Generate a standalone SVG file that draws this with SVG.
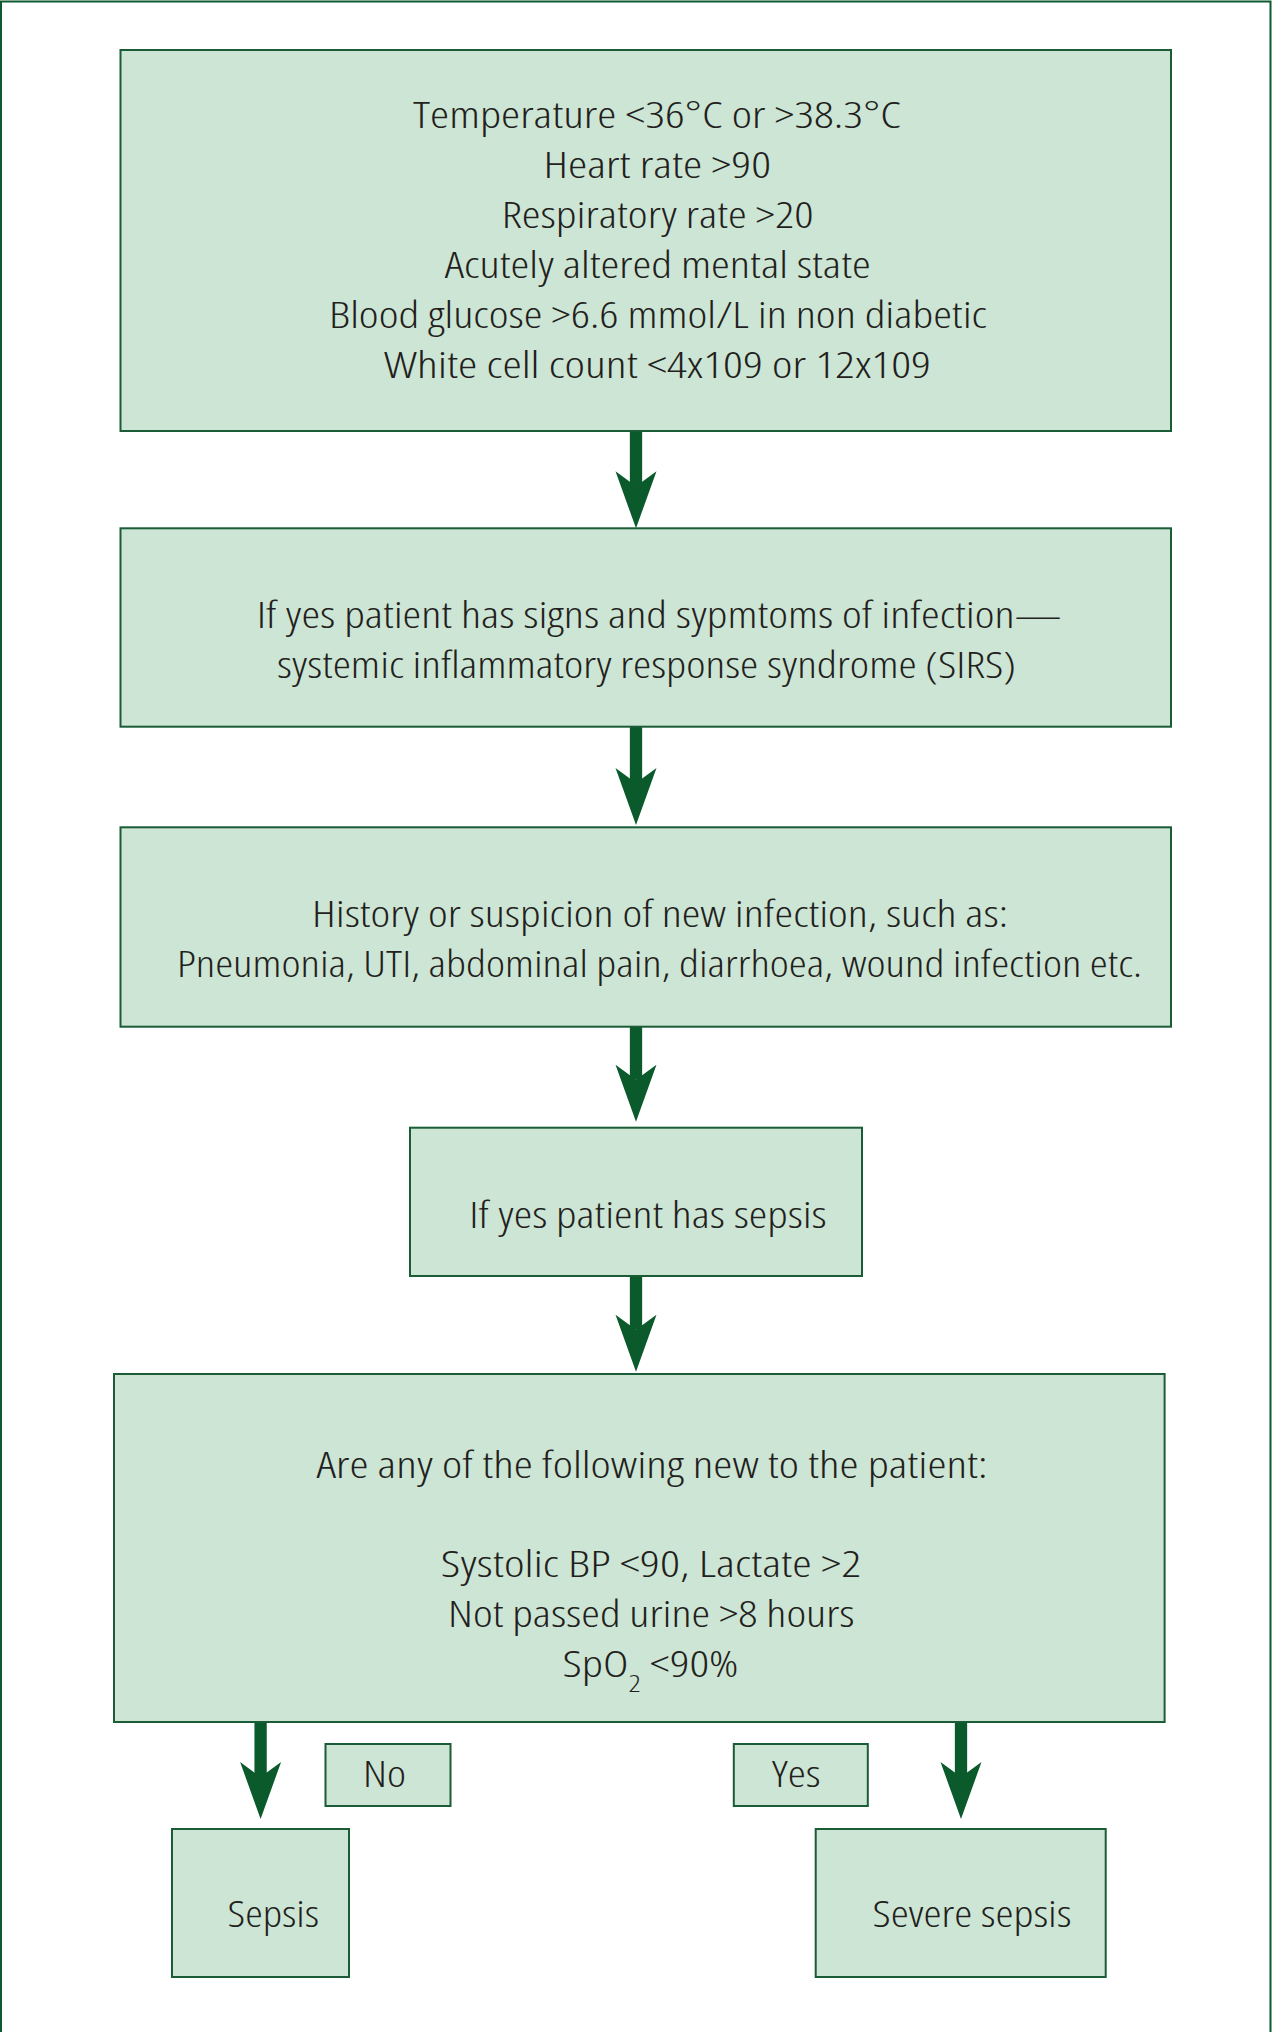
<svg xmlns="http://www.w3.org/2000/svg" width="1273" height="2032" viewBox="0 0 1273 2032">
<style>
.box{fill:#cde5d4;stroke:#1a5c36;stroke-width:2}
.t{font-family:"Open Sans","Noto Sans","Liberation Sans",sans-serif;font-size:37px;font-weight:300;font-stretch:condensed;fill:#231f20}
.conn{stroke:#0a5a2c;stroke-width:12.3;fill:none;marker-end:url(#ah)}
</style>
<defs>
<marker id="ah" markerUnits="userSpaceOnUse" markerWidth="60" markerHeight="44" viewBox="0 -22 60 44" refX="15" refY="0" orient="auto">
<path d="M0,-20.5 L57,0 L0,20.5 L15,0 Z" fill="#0a5a2c"/>
</marker>
</defs>
<rect width="1273" height="2032" fill="#ffffff"/>
<path d="M1,2040 V1.5 H1270.5 V2040" fill="none" stroke="#0e5a30" stroke-width="2"/>

<g id="connectors">
<line class="conn" x1="636" y1="431" x2="636" y2="486.3"/>
<line class="conn" x1="636" y1="726.7" x2="636" y2="783"/>
<line class="conn" x1="636" y1="1026.7" x2="636" y2="1079.7"/>
<line class="conn" x1="636" y1="1276" x2="636" y2="1329.7"/>
<line class="conn" x1="260.6" y1="1722" x2="260.6" y2="1777"/>
<line class="conn" x1="961" y1="1722" x2="961" y2="1777"/>
</g>

<g id="criteria">
<rect class="box" x="120.5" y="50" width="1050.5" height="381"/>
<text class="t" x="413" y="127.5" textLength="488" lengthAdjust="spacingAndGlyphs">Temperature &lt;36°C or &gt;38.3°C</text>
<text class="t" x="543.5" y="177.5" textLength="227.5" lengthAdjust="spacingAndGlyphs">Heart rate &gt;90</text>
<text class="t" x="501.7" y="227.5" textLength="312" lengthAdjust="spacingAndGlyphs">Respiratory rate &gt;20</text>
<text class="t" x="444.7" y="277.5" textLength="426" lengthAdjust="spacingAndGlyphs">Acutely altered mental state</text>
<text class="t" x="329" y="327.5" textLength="658" lengthAdjust="spacingAndGlyphs">Blood glucose &gt;6.6 mmol/L in non diabetic</text>
<text class="t" x="384" y="377.5" textLength="547" lengthAdjust="spacingAndGlyphs">White cell count &lt;4x109 or 12x109</text>
</g>

<g id="sirs">
<rect class="box" x="120.5" y="528.3" width="1050.5" height="198.4"/>
<text class="t" x="256.7" y="628.3" textLength="805" lengthAdjust="spacingAndGlyphs">If yes patient has signs and sypmtoms of infection—</text>
<text class="t" x="277" y="677.8" textLength="739" lengthAdjust="spacingAndGlyphs">systemic inflammatory response syndrome (SIRS)</text>
</g>

<g id="infection">
<rect class="box" x="120.5" y="827.3" width="1050.5" height="199.4"/>
<text class="t" x="312" y="927.3" textLength="696" lengthAdjust="spacingAndGlyphs">History or suspicion of new infection, such as:</text>
<text class="t" x="177" y="976.7" textLength="965" lengthAdjust="spacingAndGlyphs">Pneumonia, UTI, abdominal pain, diarrhoea, wound infection etc.</text>
</g>

<g id="sepsis-check">
<rect class="box" x="410" y="1127.7" width="452" height="148.3"/>
<text class="t" x="469.3" y="1228" textLength="357.4" lengthAdjust="spacingAndGlyphs">If yes patient has sepsis</text>
</g>

<g id="severity-question">
<rect class="box" x="114" y="1374" width="1050.6" height="348"/>
<text class="t" x="316.6" y="1478.3" textLength="671" lengthAdjust="spacingAndGlyphs">Are any of the following new to the patient:</text>
<text class="t" x="440.7" y="1577.3" textLength="420.5" lengthAdjust="spacingAndGlyphs">Systolic BP &lt;90, Lactate &gt;2</text>
<text class="t" x="448" y="1627" textLength="406.5" lengthAdjust="spacingAndGlyphs">Not passed urine &gt;8 hours</text>
<text class="t" x="562.5" y="1677" textLength="176" lengthAdjust="spacingAndGlyphs">SpO<tspan font-size="23" dy="14.7">2</tspan><tspan dy="-14.7"> &lt;90%</tspan></text>
</g>

<g id="label-no">
<rect class="box" x="325.5" y="1744" width="125" height="62"/>
<text class="t" x="363" y="1787.3" textLength="43" lengthAdjust="spacingAndGlyphs">No</text>
</g>

<g id="label-yes">
<rect class="box" x="733.8" y="1744" width="134" height="62"/>
<text class="t" x="772" y="1787.3" textLength="48.5" lengthAdjust="spacingAndGlyphs">Yes</text>
</g>

<g id="sepsis">
<rect class="box" x="172" y="1829" width="177" height="148"/>
<text class="t" x="227.5" y="1926.8" textLength="91.5" lengthAdjust="spacingAndGlyphs">Sepsis</text>
</g>

<g id="severe-sepsis">
<rect class="box" x="815.7" y="1829" width="290" height="148"/>
<text class="t" x="872.5" y="1926.8" textLength="199" lengthAdjust="spacingAndGlyphs">Severe sepsis</text>
</g>
</svg>
